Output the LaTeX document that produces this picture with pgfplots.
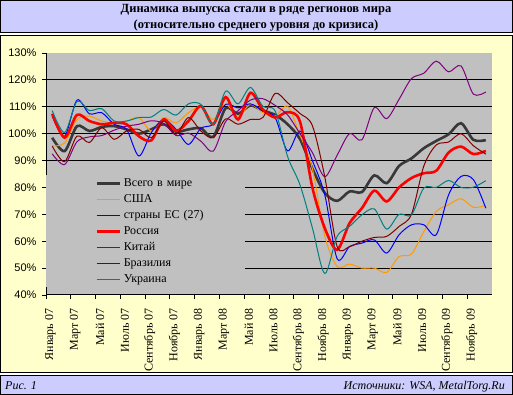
\documentclass[border=0pt]{standalone}
\usepackage{pgfplots}
\usepackage{pgfplotstable}
\pgfplotsset{compat=1.18}
\usepackage{fontspec}
\setmainfont{Liberation Serif}
\newfontfamily\sansf{Liberation Sans}

\definecolor{plotgray}{HTML}{C0C0C0}
\definecolor{lav}{HTML}{CCCCFF}
\definecolor{yel}{HTML}{FFFFCC}
\definecolor{cworld}{HTML}{383838}
\definecolor{cusa}{HTML}{FF9900}
\definecolor{ceu}{HTML}{0000FF}
\definecolor{crus}{HTML}{FF0000}
\definecolor{cchn}{HTML}{800080}
\definecolor{cbra}{HTML}{800000}
\definecolor{cukr}{HTML}{008080}

\pgfplotstableread{
x world usa eu rus chn bra ukr
0.5 98.5 95.5 106.5 107.4 92.5 95.4 108.6
1.5 93.5 96.5 99 98.5 88.5 89.6 100.4
2.5 102.8 105.3 112.5 107 97 99.1 112
3.5 101 106.5 107.4 104.7 98.8 96.7 108.6
4.5 102.5 104.7 107.8 103.5 99.3 102.2 109.3
5.5 102.8 104 103.5 104 101.3 97.9 104.7
6.5 101.6 104.7 101.6 103.5 102.8 101 104.7
7.5 100 106 91.7 99 103.5 101.6 106
8.5 101.6 101 100.4 97.5 104.8 98.5 106.2
9.5 103.5 106 105.3 105.3 103.8 104.7 109
10.5 100.7 104 101.6 101 99.3 99.8 106.9
11.5 101.6 107.8 96 104.7 100.2 106 111.1
12.5 102 110 102 110.3 97.2 101 110.9
13.5 98.8 105.3 103.5 103.5 93.5 98.5 103.5
14.5 109.5 110.9 110.9 113.6 104.5 105.5 115.8
15.5 107.4 106.5 109.6 105.3 108.5 103.5 111.1
16.5 110.5 110.9 111.1 115.2 112.5 105.3 117.2
17.5 108.6 107.8 108.4 109 113 106 110.2
18.5 107 106.5 105.9 106 110.5 115 108.4
19.5 103.5 110.2 93.6 108 107 111.5 91.5
20.5 98 99.5 101 104.5 100 107.5 81
21.5 87 87 90 80 93 103 65
22.5 78 62 77.3 64.9 84 84 48
23.5 75 50.6 53.5 56.8 92 58 61.8
24.5 78.5 51.5 58 66.7 100 58 65.5
25.5 78.3 50 59.3 72.3 97.7 60 69.8
26.5 84.5 50 60.5 78.8 109.7 61.4 72
27.5 81.6 48.4 55.6 74.8 105.6 61.8 64.5
28.5 88 54.3 62.4 80 112.8 65.5 70
29.5 90.8 55.2 66.1 83.5 120.5 70 69.8
30.5 94.6 63.6 66.1 85.3 122.5 88 79.8
31.5 97.3 71.1 62.4 86.2 127 95.8 80
32.5 99.8 73.6 77.3 93 123 96.9 82.6
33.5 103.9 75.8 84.1 95.2 125.2 100 80
34.5 97.7 72.6 82.9 92.4 114.7 95.5 80.1
35.5 97.6 73.3 72.3 93.6 115.5 92.4 82.5
}\data

\begin{document}
\begin{tikzpicture}[x=1pt,y=1pt]
\fill[white] (0,0) rectangle (513,395);
\filldraw[fill=lav, draw=black, line width=1pt] (0.5,362) rectangle (512.5,394.5);
\node[font=\bfseries\fontsize{12.5}{16.5}\selectfont, align=center] at (256,377.3)
  {Динамика выпуска стали в ряде регионов мира\\(относительно среднего уровня до кризиса)};
\filldraw[fill=yel, draw=black, line width=1pt] (0.5,22) rectangle (512.5,359);
\filldraw[fill=lav, draw=black, line width=1pt] (0.5,0.5) rectangle (512.5,19);
\node[anchor=base west, font=\itshape\fontsize{12}{14}\selectfont, inner sep=0pt] at (5,5) {Рис. 1};
\node[anchor=base east, font=\itshape\fontsize{12}{14}\selectfont, inner sep=0pt] at (505,5) {Источники: WSA, MetalTorg.Ru};
\begin{axis}[
  at={(46pt,100pt)}, anchor=south west,
  scale only axis, width=446pt, height=242pt,
  xmin=0, xmax=36, ymin=40, ymax=130,
  axis background/.style={fill=plotgray},
  axis x line*=bottom, axis y line*=left,
  axis line style={-, black, line width=1pt},
  tick align=outside, major tick length=4pt,
  tick style={black, line width=0.8pt},
  ytick={40,50,...,130},
  yticklabel={\pgfmathprintnumber{\tick}\%},
  /pgf/number format/assume math mode=true,
  yticklabel style={font=\sansf\fontsize{11}{12}\selectfont, xshift=-2pt},
  extra y ticks={50,60,...,120},
  extra y tick labels={},
  extra y tick style={grid=major, major grid style={black, line width=1pt}},
  xtick={0,2,...,34},
  xticklabels={Январь 07, Март 07, Май 07, Июль 07, Сентябрь 07, Ноябрь 07, Январь 08, Март 08, Май 08, Июль 08, Сентябрь 08, Ноябрь 08, Январь 09, Март 09, Май 09, Июль 09, Сентябрь 09, Ноябрь 09},
  xticklabel style={xshift=4.5pt, yshift=-6pt, rotate=90, anchor=east, font=\fontsize{12}{14}\selectfont},
  legend cell align=left,
  legend image code/.code={\path (-49pt,0pt); \draw[#1] (0pt,0pt) -- (23pt,0pt);},
  legend style={at={(axis cs:0,84.6)}, anchor=north west, fill=plotgray, draw=none,
    inner sep=0pt, row sep=0pt, column sep=1pt,
    font=\fontsize{12}{14}\selectfont,
    nodes={inner xsep=2pt, inner ysep=2pt, text height=9pt, text depth=3pt, text width=119pt, align=left}},
]
\addplot[cworld, line width=2.6pt, smooth] table[x=x, y=world] {\data};
\addlegendentry{Всего в мире}
\addplot[cusa, line width=1pt, smooth] table[x=x, y=usa] {\data};
\addlegendentry{США}
\addplot[ceu, line width=1pt, smooth] table[x=x, y=eu] {\data};
\addlegendentry{страны ЕС (27)}
\addplot[crus, line width=2.6pt, smooth] table[x=x, y=rus] {\data};
\addlegendentry{Россия}
\addplot[cchn, line width=1pt, smooth] table[x=x, y=chn] {\data};
\addlegendentry{Китай}
\addplot[cbra, line width=1pt, smooth] table[x=x, y=bra] {\data};
\addlegendentry{Бразилия}
\addplot[cukr, line width=1pt, smooth] table[x=x, y=ukr] {\data};
\addlegendentry{Украина}
\end{axis}
\end{tikzpicture}
\end{document}
